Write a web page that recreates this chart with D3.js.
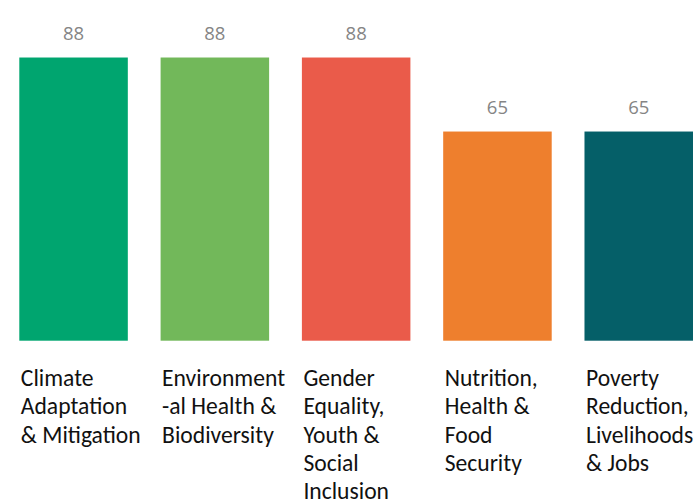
<!DOCTYPE html>
<html>
<head>
<meta charset="utf-8">
<script src="https://cdn.jsdelivr.net/npm/d3@7"></script>
<style>
  html, body { margin: 0; padding: 0; background: #ffffff; }
  svg { display: block; }
</style>
</head>
<body>
<svg id="chart" width="694" height="504"></svg>
<script>
const categories = [
  "Climate Adaptation & Mitigation",
  "Environmental Health & Biodiversity",
  "Gender Equality, Youth & Social Inclusion",
  "Nutrition, Health & Food Security",
  "Poverty Reduction, Livelihoods & Jobs"
];
const categoryLines = [
  ["Climate", "Adaptation", "& Mitigation"],
  ["Environment", "-al Health &", "Biodiversity"],
  ["Gender", "Equality,", "Youth &", "Social", "Inclusion"],
  ["Nutrition,", "Health &", "Food", "Security"],
  ["Poverty", "Reduction,", "Livelihoods", "& Jobs"]
];
const values = [88, 88, 88, 65, 65];
const colors = ["#00A56F", "#72B85A", "#EA5B4A", "#EE7F2D", "#055F68"];

const svg = d3.select("#chart");

const x = d3.scaleBand()
  .domain(categories)
  .range([19.3, 693])
  .paddingInner(0.232)
  .paddingOuter(0);

const y = d3.scaleLinear()
  .domain([0, 100])
  .range([340.7, 18.9]);

const data = categories.map((c, i) => ({ cat: c, value: values[i], color: colors[i], lines: categoryLines[i] }));

svg.append("g").selectAll("rect")
  .data(data)
  .join("rect")
  .attr("x", d => x(d.cat))
  .attr("y", d => y(d.value))
  .attr("width", x.bandwidth())
  .attr("height", d => y(0) - y(d.value))
  .attr("fill", d => d.color);

svg.append("g").selectAll("text")
  .data(data)
  .join("text")
  .attr("x", d => x(d.cat) + x.bandwidth() / 2)
  .attr("y", d => y(d.value) - 17.5)
  .attr("text-anchor", "middle")
  .attr("font-family", "'Open Sans', 'Noto Sans', sans-serif")
  .attr("font-size", 18.5)
  .attr("fill", "#858585")
  .text(d => d.value);

const lab = svg.append("g").selectAll("text")
  .data(data)
  .join("text")
  .attr("x", d => x(d.cat) + 1.5)
  .attr("y", 386)
  .attr("font-family", "Carlito, Lato, 'Open Sans', sans-serif")
  .attr("font-size", 23.6)
  .attr("fill", "#111111");

lab.selectAll("tspan")
  .data(d => d.lines.map(l => ({ l, x: x(d.cat) + 1.5 })))
  .join("tspan")
  .attr("x", t => t.x)
  .attr("dy", (t, i) => i === 0 ? 0 : 28.3)
  .text(t => t.l);
</script>
</body>
</html>
